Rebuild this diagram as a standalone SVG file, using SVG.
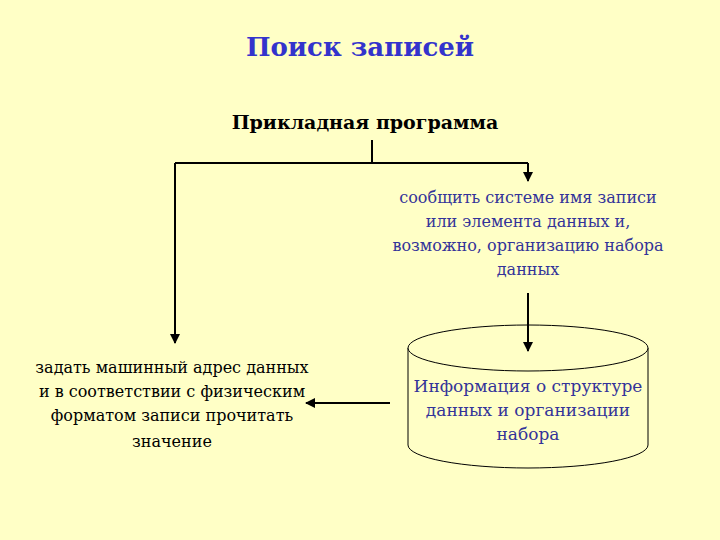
<svg xmlns="http://www.w3.org/2000/svg" width="720" height="540" viewBox="0 0 720 540">
<style>
text{font-family:"DejaVu Serif","Liberation Serif",serif;text-anchor:middle}
.ln{stroke:#000;stroke-width:2;fill:none}
</style>
<defs><marker id="a" viewBox="0 0 10 10" refX="9" refY="5" markerWidth="5" markerHeight="5" orient="auto"><path d="M0,0L10,5L0,10z" fill="#000"/></marker></defs>
<rect width="720" height="540" fill="#FFFFC6"/>
<text x="360" y="56" font-size="26" font-weight="bold" fill="#3333CC">Поиск записей</text>
<g id="program"><text x="365" y="129" font-size="19" font-weight="bold" fill="#000">Прикладная программа</text></g>
<g id="tell" font-size="16" fill="#333399">
<text x="528" y="203">сообщить системе имя записи</text>
<text x="528" y="227">или элемента данных и,</text>
<text x="528" y="251">возможно, организацию набора</text>
<text x="528" y="275">данных</text>
</g>
<g id="db">
<path d="M408,348V445A120,23 0 0 0 648,445V348" fill="#FFFFC6" stroke="#000" stroke-width="1"/>
<ellipse cx="528" cy="348" rx="120" ry="23" fill="#FFFFC6" stroke="#000" stroke-width="1"/>
<g font-size="17" fill="#333399">
<text x="528" y="392">Информация о структуре</text>
<text x="528" y="416">данных и организации</text>
<text x="528" y="440">набора</text>
</g>
</g>
<g id="read" font-size="16" fill="#000">
<text x="172" y="373">задать машинный адрес данных</text>
<text x="172" y="397">и в соответствии с физическим</text>
<text x="172" y="421">форматом записи прочитать</text>
<text x="172" y="447">значение</text>
</g>
<g id="connectors">
<path class="ln" d="M372,140V163"/>
<path class="ln" d="M175,163H528"/>
<path class="ln" d="M175,163V343" marker-end="url(#a)"/>
<path class="ln" d="M528,163V181" marker-end="url(#a)"/>
<path class="ln" d="M528,293V351" marker-end="url(#a)"/>
<path class="ln" d="M390,403H306" marker-end="url(#a)"/>
</g>
</svg>
